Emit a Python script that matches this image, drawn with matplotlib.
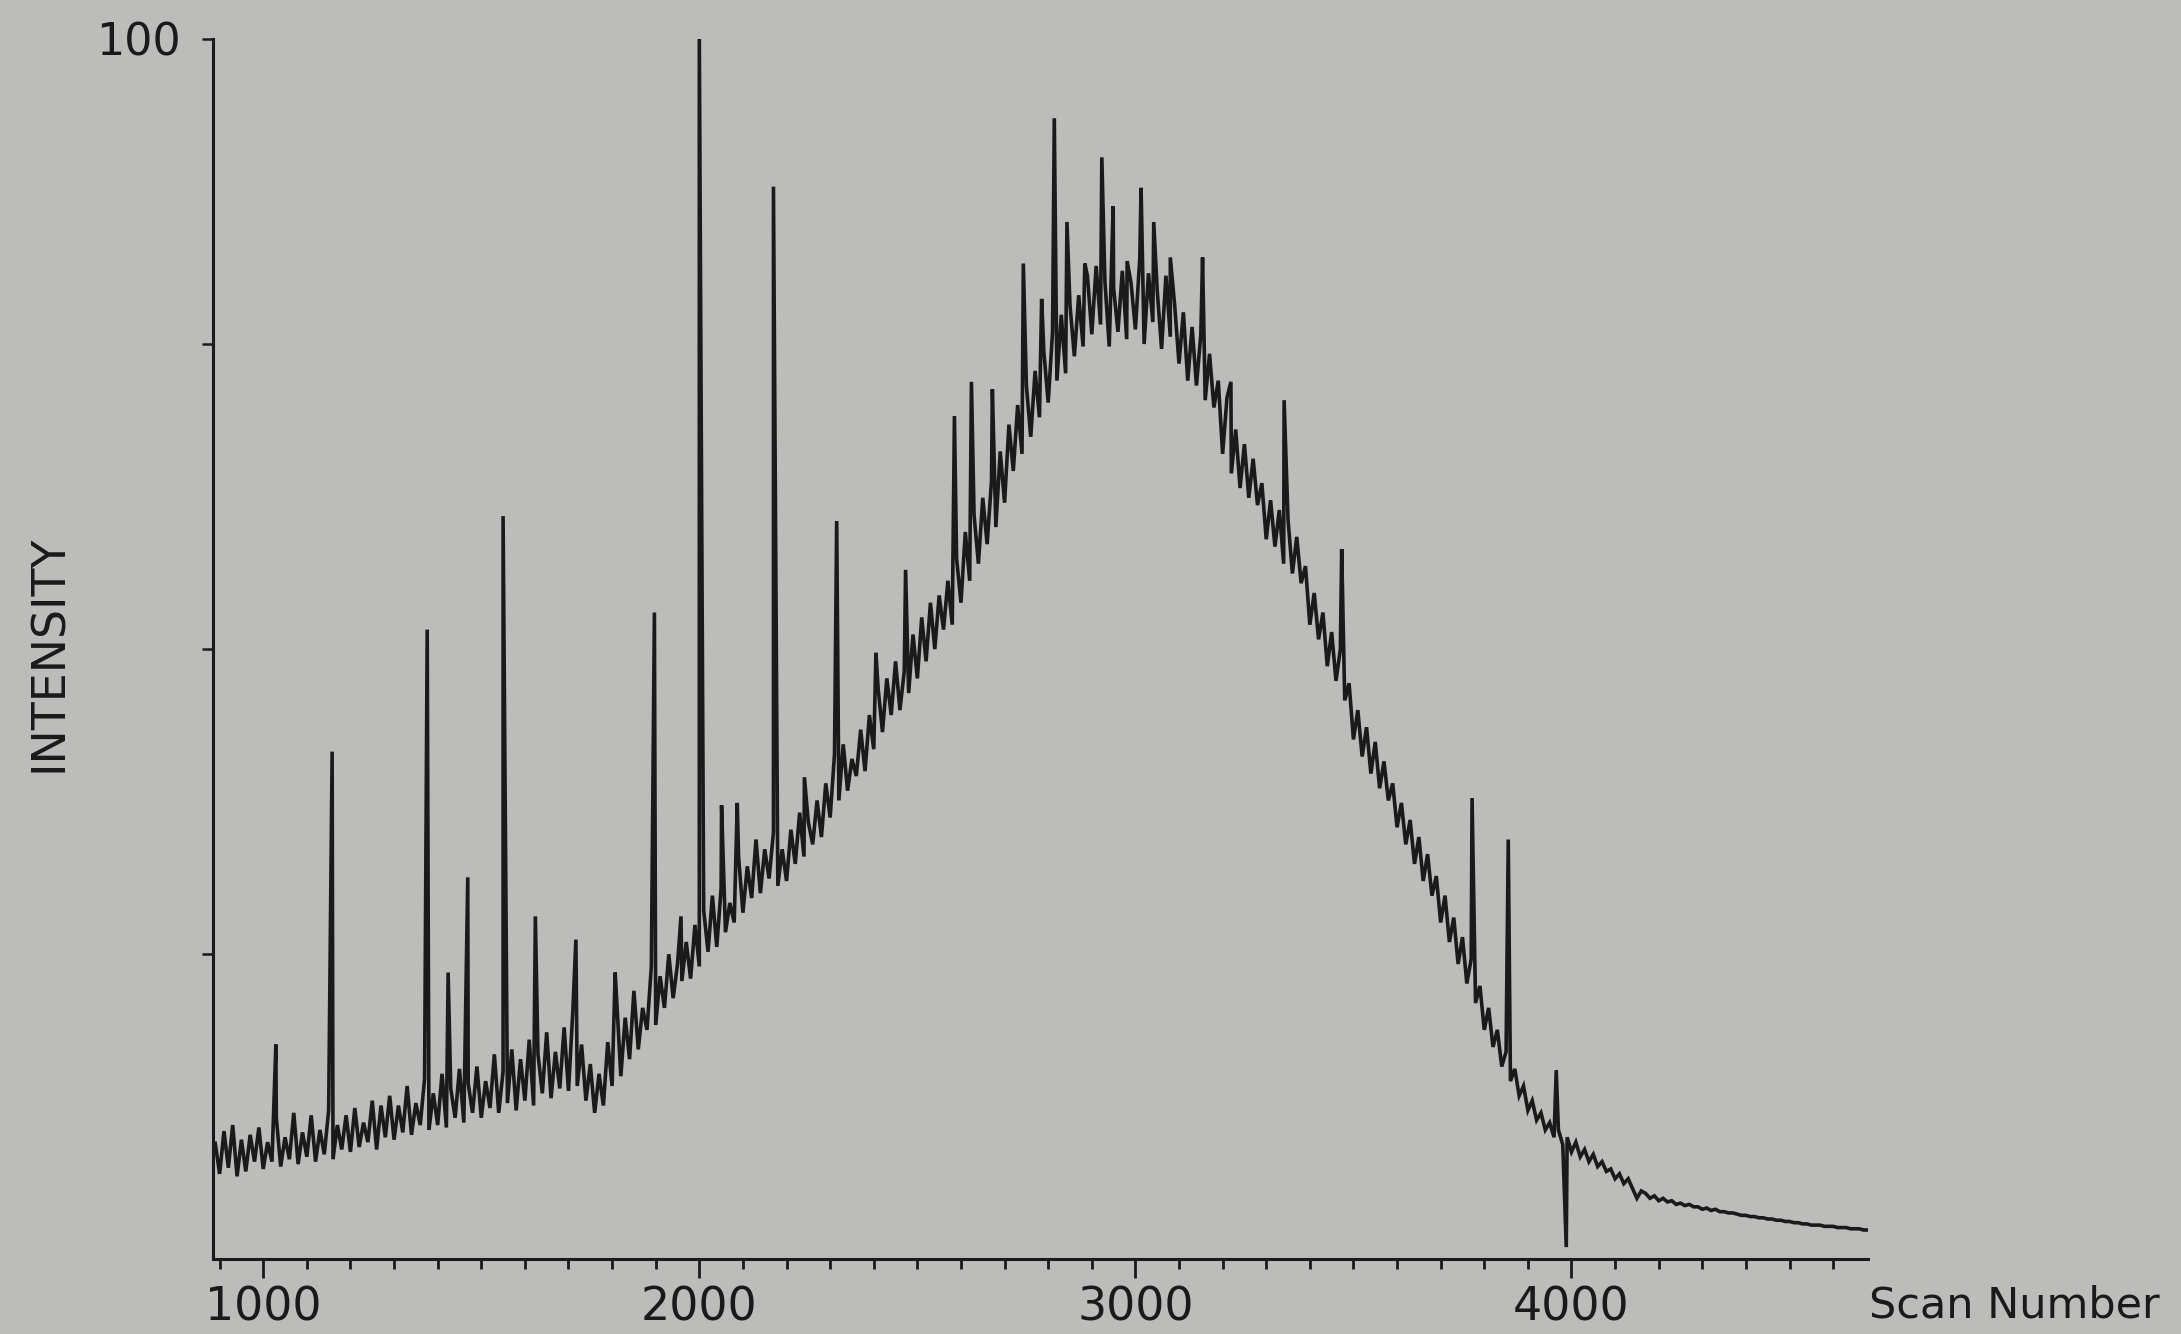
import numpy as np
import matplotlib
matplotlib.use('Agg')
import matplotlib.pyplot as plt

# Scan axis: one reading every 10 scans from 890 to 4680
scan_start = 890
scan_step = 10

# Intensity, one row per 100 scans (890-980, 990-1080, ...)
intensity_rows = [
    [9.5, 7.0, 10.5, 7.5, 11.0, 6.8, 9.8, 7.2, 10.2, 8.0],
    [10.8, 7.4, 9.6, 8.0, 11.6, 7.6, 10.0, 8.2, 12.0, 7.8],
    [10.4, 8.4, 11.8, 8.0, 10.6, 8.6, 12.2, 8.2, 11.0, 9.0],
    [11.8, 8.8, 12.4, 9.2, 11.2, 9.6, 13.0, 9.0, 12.6, 10.0],
    [13.4, 9.8, 12.6, 10.4, 14.2, 10.2, 12.8, 11.0, 14.8, 10.6],
    [13.6, 11.0, 15.2, 10.8, 14.0, 11.6, 15.6, 11.2, 14.4, 12.0],
    [15.8, 11.6, 14.6, 12.4, 16.8, 12.0, 15.4, 12.8, 17.2, 12.2],
    [16.4, 13.0, 18.0, 12.6, 16.8, 13.6, 18.6, 13.2, 17.0, 14.0],
    [19.0, 13.8, 20.4, 14.2, 17.6, 13.0, 16.0, 12.0, 15.2, 12.6],
    [17.8, 14.2, 21.6, 15.0, 19.8, 16.4, 22.0, 17.2, 20.6, 18.8],
    [24.0, 19.2, 23.2, 20.6, 25.0, 21.4, 24.2, 22.8, 26.0, 23.0],
    [27.4, 24.0, 28.6, 25.2, 29.8, 25.6, 30.4, 26.8, 29.2, 27.6],
    [33.0, 28.4, 32.2, 29.6, 34.4, 30.0, 33.6, 31.2, 35.0, 30.6],
    [33.6, 31.0, 35.2, 32.4, 36.6, 33.0, 35.8, 34.0, 37.6, 34.6],
    [39.0, 36.2, 41.4, 37.6, 42.2, 38.4, 41.0, 39.6, 43.4, 40.0],
    [44.6, 41.8, 46.8, 43.2, 47.6, 44.6, 49.0, 45.0, 48.2, 46.4],
    [51.2, 47.6, 52.6, 49.0, 53.8, 50.0, 54.4, 51.6, 55.6, 52.0],
    [57.4, 53.8, 59.6, 55.6, 61.0, 57.0, 62.4, 58.6, 63.8, 60.0],
    [66.2, 62.0, 68.4, 64.6, 70.0, 66.0, 71.6, 67.4, 72.8, 69.0],
    [74.4, 70.2, 76.0, 72.0, 77.4, 72.6, 78.2, 74.0, 79.0, 74.8],
    [80.6, 75.8, 81.4, 76.6, 80.2, 74.8, 79.6, 76.0, 81.0, 75.4],
    [80.0, 76.2, 82.0, 75.0, 80.8, 76.8, 79.4, 74.6, 80.6, 75.6],
    [78.2, 73.4, 77.6, 72.0, 76.4, 71.6, 75.8, 70.4, 74.2, 69.8],
    [72.0, 66.0, 70.6, 64.4, 68.0, 63.2, 66.8, 62.4, 65.6, 61.8],
    [63.6, 59.0, 62.2, 58.4, 61.4, 57.0, 60.6, 56.2, 59.2, 55.4],
    [56.8, 52.0, 54.6, 50.8, 53.0, 48.6, 51.4, 47.4, 50.0, 45.8],
    [47.2, 42.6, 45.0, 41.2, 43.6, 39.8, 42.4, 38.6, 40.8, 37.6],
    [39.0, 35.4, 37.4, 34.0, 36.0, 32.4, 34.6, 31.0, 33.2, 29.8],
    [31.4, 27.6, 29.8, 26.0, 28.0, 24.2, 26.4, 22.6, 24.6, 21.0],
    [22.4, 18.8, 20.6, 17.4, 18.8, 15.8, 17.0, 14.6, 15.6, 13.4],
    [14.2, 12.2, 13.0, 11.4, 12.0, 10.6, 11.2, 10.0, 10.6, 9.4],
    [10.0, 8.8, 9.6, 8.4, 9.0, 8.0, 8.6, 7.6, 8.0, 7.2],
    [7.4, 6.6, 7.0, 6.2, 6.6, 5.8, 5.0, 5.6, 5.4, 5.0],
    [5.2, 4.8, 5.0, 4.7, 4.8, 4.5, 4.6, 4.4, 4.5, 4.3],
    [4.3, 4.1, 4.2, 4.0, 4.1, 3.9, 3.9, 3.8, 3.8, 3.7],
    [3.6, 3.6, 3.5, 3.5, 3.4, 3.4, 3.3, 3.3, 3.2, 3.2],
    [3.1, 3.1, 3.0, 3.0, 2.9, 2.9, 2.8, 2.8, 2.8, 2.7],
    [2.7, 2.7, 2.6, 2.6, 2.6, 2.5, 2.5, 2.5, 2.4, 2.4],
]

# Sharp single-scan peaks sitting on the envelope
spike_scans = [1029, 1158, 1376, 1424, 1469, 1550, 1624, 1717, 1807, 1897,
               1958, 2000, 2051, 2087, 2170, 2241, 2315, 2405, 2473, 2585,
               2624, 2672, 2743, 2785, 2814, 2843, 2884, 2923, 2949, 2981,
               3013, 3042, 3080, 3154, 3219, 3341, 3473, 3772, 3855, 3965,
               3988]
spike_heights = [17.6, 41.6, 51.6, 23.5, 31.3, 60.9, 28.1, 26.2, 23.5, 53.0,
                 28.1, 100.0, 37.2, 37.4, 87.9, 39.5, 60.5, 49.7, 56.5, 69.1,
                 71.9, 71.3, 81.6, 78.7, 93.5, 85.0, 81.6, 90.3, 86.3, 81.8,
                 87.8, 85.0, 82.1, 82.1, 71.9, 70.4, 58.2, 37.8, 34.4, 15.5,
                 1.0]

x_min, x_max = 885, 4680
major_ticks = [1000, 2000, 3000, 4000]
minor_ticks = list(range(900, 4700, 100))
y_ticks = [25, 50, 75, 100]

bg = '#bcbcba'
ink = '#1a1a1a'

# build the trace: regular readings plus the spikes, sorted by scan
grid_values = np.concatenate([np.array(r) for r in intensity_rows])
grid_scans = scan_start + scan_step * np.arange(len(grid_values))
all_scans = np.concatenate([grid_scans, spike_scans])
all_values = np.concatenate([grid_values, spike_heights])
order = np.argsort(all_scans, kind='stable')

fig = plt.figure(figsize=(21.81, 13.34), dpi=100, facecolor=bg)
ax = fig.add_axes([0.0977, 0.056, 0.7588, 0.9148], facecolor=bg)

ax.plot(all_scans[order], all_values[order], color=ink, lw=2.6,
        solid_joinstyle='miter')

ax.set_xlim(x_min, x_max)
ax.set_ylim(0, 100)

for side in ['top', 'right']:
    ax.spines[side].set_visible(False)
for side in ['left', 'bottom']:
    ax.spines[side].set_linewidth(2.2)
    ax.spines[side].set_color(ink)

ax.set_xticks(major_ticks)
ax.set_xticklabels([str(t) for t in major_ticks], fontsize=33, color=ink)
ax.set_xticks([t for t in minor_ticks if t not in major_ticks], minor=True)
ax.tick_params(axis='x', which='major', direction='out', length=14, width=2.0,
               pad=5, colors=ink)
ax.tick_params(axis='x', which='minor', direction='out', length=7, width=2.0,
               colors=ink)

ax.set_yticks(y_ticks)
ax.set_yticklabels(['', '', '', '100'], fontsize=32, color=ink)
ax.tick_params(axis='y', direction='out', length=8, width=1.8, pad=15,
               colors=ink)

fig.text(0.0225, 0.51, 'INTENSITY', rotation=90, ha='center', va='center',
         fontsize=33, color=ink)
fig.text(0.857, 0.012, 'Scan Number', ha='left', va='baseline',
         fontsize=31, color=ink)

fig.savefig('out.png', dpi=100, facecolor=bg)
